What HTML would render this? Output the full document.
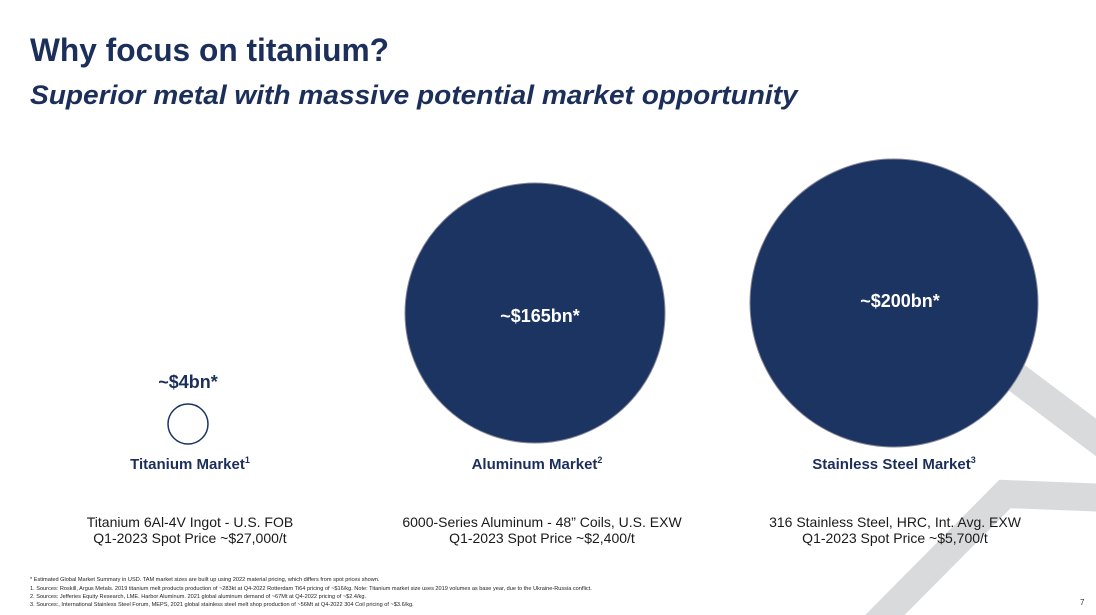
<!DOCTYPE html>
<html><head><meta charset="utf-8"><style>
body{margin:0;width:1096px;height:615px;overflow:hidden;background:#fff;font-family:"Liberation Sans",sans-serif;color:#1c2f5a;position:relative}
.a{position:absolute;white-space:nowrap}
.t{left:30px;top:32px;font-size:32px;font-weight:bold;transform-origin:0 0;transform:scaleX(0.99)}
.s{left:30px;top:80px;font-size:27px;font-weight:bold;font-style:italic;transform-origin:0 0;transform:scaleX(1.04)}
.c{text-align:center;transform:translateX(-50%)}
.lab{font-size:15px;font-weight:bold}
.big{font-size:18px;font-weight:bold}
.sub{font-size:14px;color:#1a1a1a;line-height:16px}
.fn{left:30px;font-size:5.6px;color:#222}
</style></head><body>
<svg class="a" style="left:0;top:0" width="1096" height="615">
<line x1="940" y1="320" x2="1110" y2="448" stroke="#d9dadc" stroke-width="30"/>
<polyline points="1110,498 1005,494 870,630" fill="none" stroke="#d9dadc" stroke-width="28"/>
<circle cx="535" cy="313" r="130" fill="#1c3461" stroke="#889" stroke-width="1"/>
<circle cx="894" cy="303" r="144" fill="#1c3461" stroke="#889" stroke-width="1"/>
<circle cx="188" cy="424" r="20" fill="#fff" stroke="#1c3461" stroke-width="1.5"/>
</svg>
<div class="a t">Why focus on titanium?</div>
<div class="a s">Superior metal with massive potential market opportunity</div>
<div class="a c big" style="left:188px;top:372px;color:#1c2f5a">~$4bn*</div>
<div class="a c big" style="left:540px;top:306px;color:#fff">~$165bn*</div>
<div class="a c big" style="left:900px;top:291px;color:#fff">~$200bn*</div>
<div class="a c lab" style="left:190px;top:455px">Titanium Market<sup style="font-size:9px">1</sup></div>
<div class="a c lab" style="left:537px;top:455px">Aluminum Market<sup style="font-size:9px">2</sup></div>
<div class="a c lab" style="left:894px;top:455px">Stainless Steel Market<sup style="font-size:9px">3</sup></div>
<div class="a c sub" style="left:190px;top:514px">Titanium 6Al-4V Ingot - U.S. FOB<br>Q1-2023 Spot Price ~$27,000/t</div>
<div class="a c sub" style="left:542px;top:514px">6000-Series Aluminum - 48” Coils, U.S. EXW<br>Q1-2023 Spot Price ~$2,400/t</div>
<div class="a c sub" style="left:895px;top:514px">316 Stainless Steel, HRC, Int. Avg. EXW<br>Q1-2023 Spot Price ~$5,700/t</div>
<div class="a fn" style="top:577px">* Estimated Global Market Summary in USD. TAM market sizes are built up using 2022 material pricing, which differs from spot prices shown.</div>
<div class="a fn" style="top:586px">1. Sources: Roskill, Argus Metals. 2019 titanium melt products production of ~283kt at Q4-2022 Rotterdam Ti64 pricing of ~$16/kg. Note: Titanium market size uses 2019 volumes as base year, due to the Ukraine-Russia conflict.</div>
<div class="a fn" style="top:594px">2. Sources: Jefferies Equity Research, LME. Harbor Aluminum. 2021 global aluminum demand of ~67Mt at Q4-2022 pricing of ~$2.4/kg.</div>
<div class="a fn" style="top:602px">3. Sources:, International Stainless Steel Forum, MEPS, 2021 global stainless steel melt shop production of ~56Mt at Q4-2022 304 Coil pricing of ~$3.6/kg.</div>
<div class="a" style="left:1080px;top:598px;font-size:8px;color:#333">7</div>
</body></html>
